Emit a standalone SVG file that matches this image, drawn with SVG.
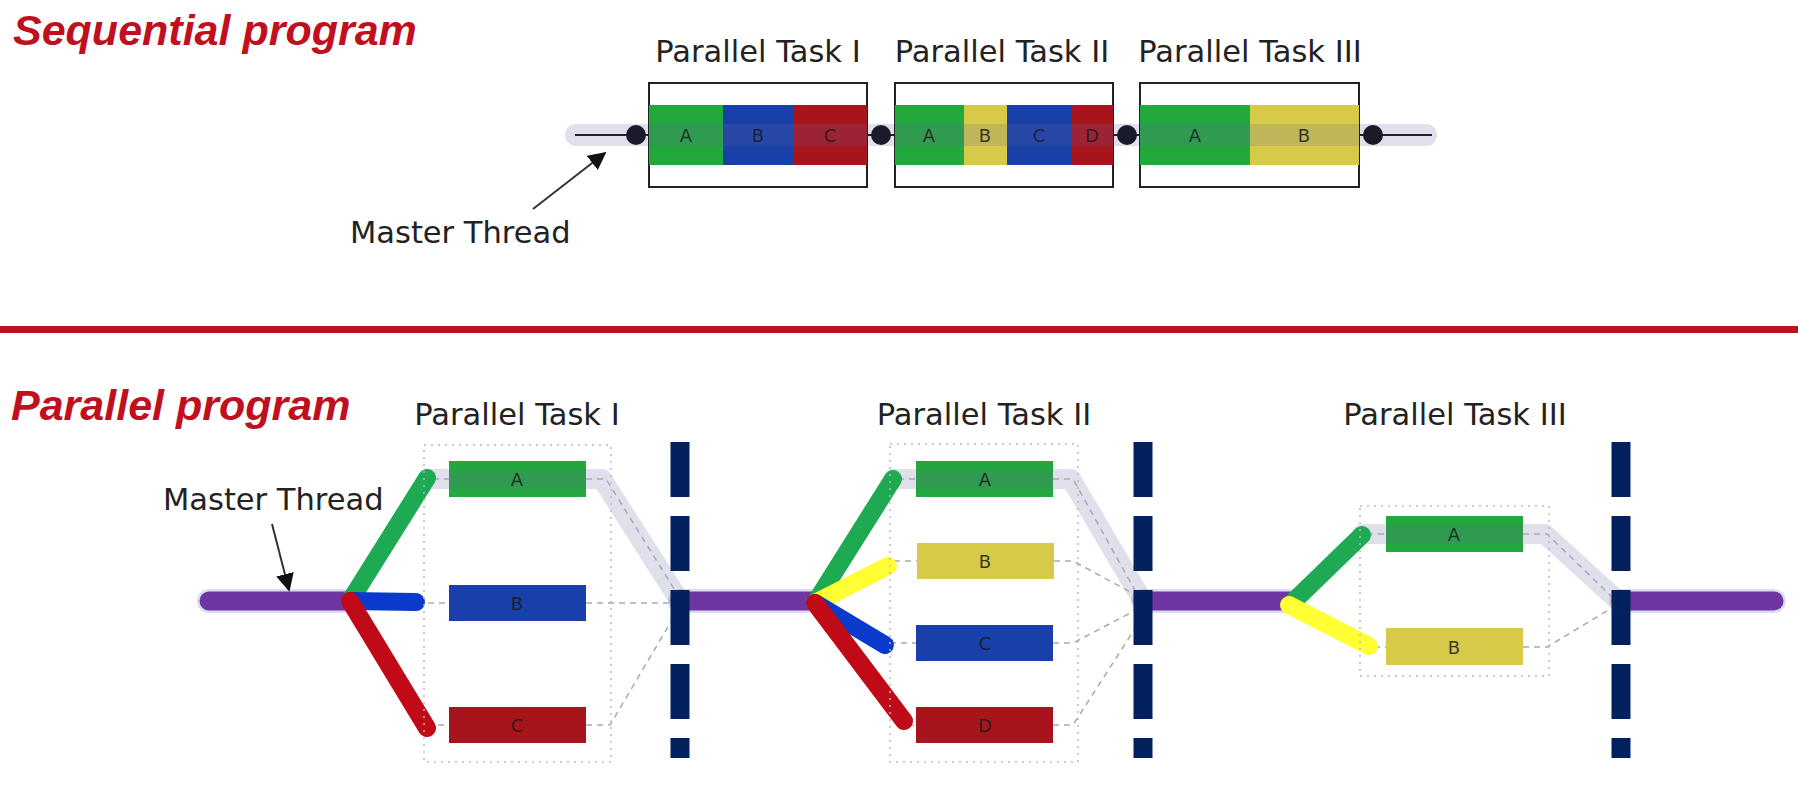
<svg xmlns="http://www.w3.org/2000/svg" width="1798" height="790" viewBox="0 0 1798 790">
<style>
.title{font-family:"Liberation Sans",Arial,sans-serif;font-weight:bold;font-style:italic;font-size:43px;fill:#c0101e}
.lbl{font-family:"DejaVu Sans",sans-serif;font-size:30.5px;fill:#222}
.cell{font-family:"DejaVu Sans",sans-serif;font-size:18px;fill:#1a1a1a;fill-opacity:0.85;text-anchor:middle;dominant-baseline:central}
.frame{fill:none;stroke:#222;stroke-width:2}
.band{fill:none;stroke:rgb(100,100,160);stroke-opacity:0.2;stroke-linecap:round;stroke-linejoin:round}
.dash{fill:none;stroke:#aaa;stroke-width:1.5;stroke-dasharray:6 5}
.dot{fill:none;stroke:#bbb;stroke-width:1.5;stroke-dasharray:2 5}
.br{fill:none;stroke-width:18;stroke-linecap:round}
.purple{fill:none;stroke:#6f35a0;stroke-width:19;stroke-linecap:round}
.halo{fill:none;stroke:#dcdcee;stroke-width:24;stroke-linecap:round}
.bar{fill:none;stroke:#02215e;stroke-width:19;stroke-dasharray:55 19}
.g{fill:#22a83c}.b{fill:#1840a8}.r{fill:#a8141c}.y{fill:#d6ca48}
</style>
<defs>
<marker id="ah2" viewBox="0 0 10 10" refX="9" refY="5" markerWidth="18" markerHeight="18" orient="auto" markerUnits="userSpaceOnUse">
<path d="M0,0 L10,5 L0,10 z" fill="#111"/>
</marker>
</defs>

<!-- Titles and divider -->
<text class="title" x="13" y="45">Sequential program</text>
<rect x="0" y="326" width="1798" height="7" fill="#c0101e"/>
<text class="title" x="11" y="420">Parallel program</text>

<!-- ===== Sequential ===== -->
<g id="seq-thread">
<line x1="576" y1="135" x2="1426" y2="135" class="band" stroke-width="22"/>
<line x1="575" y1="135" x2="1432" y2="135" stroke="#222" stroke-width="2"/>
</g>
<g id="seq-task1">
<text class="lbl" x="758" y="62" text-anchor="middle">Parallel Task I</text>
<rect class="frame" x="649" y="83" width="218" height="104" fill="#fff"/>
<rect class="g" x="649" y="105" width="74" height="60"/>
<rect class="b" x="723" y="105" width="70" height="60"/>
<rect class="r" x="793" y="105" width="74" height="60"/>
<rect x="649" y="124" width="218" height="22" fill="rgb(100,100,160)" fill-opacity="0.2"/>
<text class="cell" x="686" y="135" font-size="16.5">A</text>
<text class="cell" x="758" y="135" font-size="16.5">B</text>
<text class="cell" x="830" y="135" font-size="16.5">C</text>
</g>
<g id="seq-task2">
<text class="lbl" x="1002" y="62" text-anchor="middle">Parallel Task II</text>
<rect class="frame" x="895" y="83" width="218" height="104" fill="#fff"/>
<rect class="g" x="895" y="105" width="69" height="60"/>
<rect class="y" x="964" y="105" width="43" height="60"/>
<rect class="b" x="1007" y="105" width="65" height="60"/>
<rect class="r" x="1072" y="105" width="41" height="60"/>
<rect x="895" y="124" width="218" height="22" fill="rgb(100,100,160)" fill-opacity="0.2"/>
<text class="cell" x="929" y="135" font-size="16.5">A</text>
<text class="cell" x="985" y="135" font-size="16.5">B</text>
<text class="cell" x="1039" y="135" font-size="16.5">C</text>
<text class="cell" x="1092" y="135" font-size="16.5">D</text>
</g>
<g id="seq-task3">
<text class="lbl" x="1250" y="62" text-anchor="middle">Parallel Task III</text>
<rect class="frame" x="1140" y="83" width="219" height="104" fill="#fff"/>
<rect class="g" x="1140" y="105" width="110" height="60"/>
<rect class="y" x="1250" y="105" width="109" height="60"/>
<rect x="1140" y="124" width="219" height="22" fill="rgb(100,100,160)" fill-opacity="0.2"/>
<text class="cell" x="1195" y="135" font-size="16.5">A</text>
<text class="cell" x="1304" y="135" font-size="16.5">B</text>
</g>
<g id="seq-dots" fill="#1a1a2a">
<circle cx="636" cy="135" r="10"/>
<circle cx="881" cy="135" r="10"/>
<circle cx="1127" cy="135" r="10"/>
<circle cx="1373" cy="135" r="10"/>
</g>
<g id="seq-master">
<text class="lbl" x="350" y="243" font-size="31">Master Thread</text>
<line x1="533" y1="209" x2="605" y2="153" stroke="#333" stroke-width="2" marker-end="url(#ah2)"/>
</g>

<!-- ===== Parallel ===== -->
<g id="connectors">
<!-- purple master thread segments -->
<line class="halo" x1="209" y1="601" x2="350" y2="601"/>
<line class="halo" x1="680" y1="601" x2="815" y2="601"/>
<line class="halo" x1="1143" y1="601" x2="1290" y2="601"/>
<line class="halo" x1="1621" y1="601" x2="1774" y2="601"/>
<line class="purple" x1="209" y1="601" x2="350" y2="601"/>
<line class="purple" x1="680" y1="601" x2="815" y2="601"/>
<line class="purple" x1="1143" y1="601" x2="1290" y2="601"/>
<line class="purple" x1="1621" y1="601" x2="1774" y2="601"/>
<!-- lavender join bands -->
<path class="band" stroke-width="20" d="M428,479 L602,479 L678,598"/>
<path class="band" stroke-width="20" d="M893,479 L1071,479 L1141,598"/>
<path class="band" stroke-width="20" d="M1362,534 L1545,534 L1617,600"/>
<!-- dashed joins task I -->
<path class="dash" d="M433,479 L449,479 M586,479 L606,479 L676,592"/>
<path class="dash" d="M428,603 L449,603 M586,603 L672,603"/>
<path class="dash" d="M438,725 L449,725 M586,725 L610,725 L672,620"/>
<!-- dashed joins task II -->
<path class="dash" d="M898,479 L916,479 M1053,479 L1073,479 L1137,594"/>
<path class="dash" d="M894,561 L917,561 M1054,561 L1073,561 L1136,595"/>
<path class="dash" d="M890,643 L916,643 M1053,643 L1073,643 L1136,610"/>
<path class="dash" d="M908,725 L916,725 M1053,725 L1073,725 L1136,627"/>
<!-- dashed joins task III -->
<path class="dash" d="M1367,534 L1386,534 M1523,534 L1547,534 L1612,597"/>
<path class="dash" d="M1374,647 L1386,647 M1523,647 L1547,647 L1610,609"/>
<!-- fork 1 -->
<line class="br" stroke="#1daa52" x1="350" y1="601" x2="427" y2="478"/>
<line class="br" stroke="#0a3acc" x1="350" y1="601" x2="416" y2="602"/>
<line class="br" stroke="#c00a18" x1="350" y1="601" x2="427" y2="728"/>
<!-- fork 2 -->
<line class="br" stroke="#1daa52" x1="815" y1="603" x2="893" y2="479"/>
<line class="br" stroke="#ffff33" x1="815" y1="603" x2="888" y2="566"/>
<line class="br" stroke="#0a3acc" x1="815" y1="603" x2="885" y2="645"/>
<line class="br" stroke="#c00a18" x1="815" y1="603" x2="904" y2="721"/>
<!-- fork 3 -->
<line class="br" stroke="#1daa52" x1="1294" y1="601" x2="1362" y2="535"/>
<line class="br" stroke="#ffff33" x1="1289" y1="605" x2="1369" y2="646"/>
<!-- barriers -->
<line class="bar" x1="680" y1="442" x2="680" y2="758"/>
<line class="bar" x1="1143" y1="442" x2="1143" y2="758"/>
<line class="bar" x1="1621" y1="442" x2="1621" y2="758"/>
<!-- master thread arrow -->
<line x1="272" y1="524" x2="289" y2="590" stroke="#333" stroke-width="2" marker-end="url(#ah2)"/>
</g>

<text class="lbl" x="163" y="510" font-size="31">Master Thread</text>

<g id="task1">
<text class="lbl" x="517" y="425" text-anchor="middle">Parallel Task I</text>
<rect class="dot" x="424" y="445" width="187" height="317"/>
<g id="t1a"><rect class="g" x="449" y="461" width="137" height="36"/><rect x="449" y="470" width="137" height="19" fill="rgb(100,100,160)" fill-opacity="0.2"/><text class="cell" x="517" y="479">A</text></g>
<g id="t1b"><rect class="b" x="449" y="585" width="137" height="36"/><text class="cell" x="517" y="603">B</text></g>
<g id="t1c"><rect class="r" x="449" y="707" width="137" height="36"/><text class="cell" x="517" y="725">C</text></g>
</g>

<g id="task2">
<text class="lbl" x="984" y="425" text-anchor="middle">Parallel Task II</text>
<rect class="dot" x="890" y="444" width="188" height="318"/>
<g id="t2a"><rect class="g" x="916" y="461" width="137" height="36"/><rect x="916" y="470" width="137" height="19" fill="rgb(100,100,160)" fill-opacity="0.2"/><text class="cell" x="985" y="479">A</text></g>
<g id="t2b"><rect class="y" x="917" y="543" width="137" height="36"/><text class="cell" x="985" y="561">B</text></g>
<g id="t2c"><rect class="b" x="916" y="625" width="137" height="36"/><text class="cell" x="985" y="643">C</text></g>
<g id="t2d"><rect class="r" x="916" y="707" width="137" height="36"/><text class="cell" x="985" y="725">D</text></g>
</g>

<g id="task3">
<text class="lbl" x="1455" y="425" text-anchor="middle">Parallel Task III</text>
<rect class="dot" x="1360" y="506" width="189" height="170"/>
<g id="t3a"><rect class="g" x="1386" y="516" width="137" height="36"/><rect x="1386" y="525" width="137" height="19" fill="rgb(100,100,160)" fill-opacity="0.2"/><text class="cell" x="1454" y="534">A</text></g>
<g id="t3b"><rect class="y" x="1386" y="628" width="137" height="37"/><text class="cell" x="1454" y="647">B</text></g>
</g>
</svg>
